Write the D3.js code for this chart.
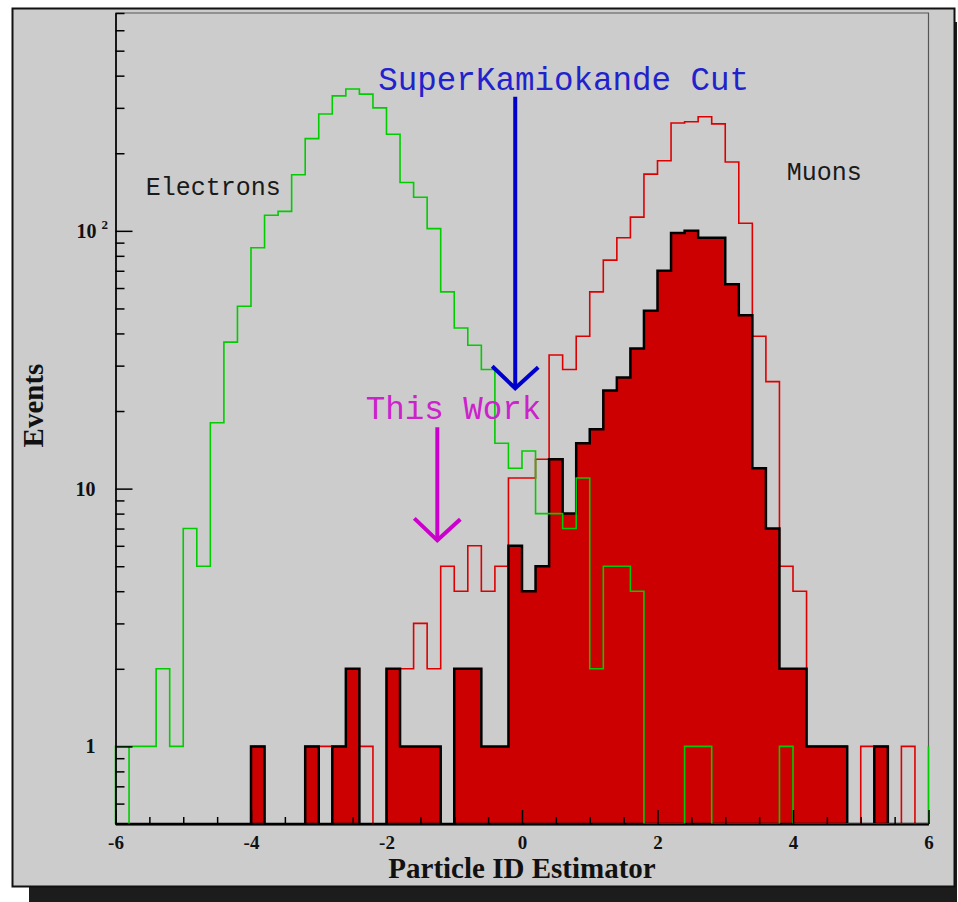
<!DOCTYPE html>
<html>
<head>
<meta charset="utf-8">
<script src="https://cdn.jsdelivr.net/npm/d3@7"></script>
<style>
  html, body { margin: 0; padding: 0; background: #ffffff; }
  svg { display: block; }
</style>
</head>
<body>
<svg id="chart" width="958" height="902"></svg>
<script>
// Histogram binning: 60 bins of width 0.2 from -6 to 6
const binLow = -6;
const binWidth = 0.2;

// Electron sample (green outline)
const electrons = [
  1, 1, 1, 2, 1, 7, 5, 18, 37, 51,
  86, 115, 119, 165, 228, 284, 334, 355, 339, 300,
  237, 154, 135, 102, 58, 42, 36, 29, 15, 12,
  14, 8, 8, 7, 11, 2, 5, 5, 4, 0,
  0, 0, 1, 1, 0, 0, 0, 0, 0, 1,
  0, 0, 0, 0, 0, 0, 0, 0, 0, 0
];
const electronOverflow = 1;

// Muon sample, all events (thin red outline)
const muonsAll = [
  0, 0, 0, 0, 0, 0, 0, 0, 0, 0,
  1, 0, 0, 0, 1, 1, 1, 2, 1, 0,
  2, 2, 3, 2, 5, 4, 6, 4, 5, 11,
  11, 13, 33, 29, 39, 58, 77, 94, 113, 166,
  187, 262, 265, 277, 260, 185, 107, 39, 26, 5,
  4, 1, 1, 1, 0, 1, 1, 0, 1, 0
];

// Muon sample, selected events (filled red, black outline)
const muonsSelected = [
  0, 0, 0, 0, 0, 0, 0, 0, 0, 0,
  1, 0, 0, 0, 1, 0, 1, 2, 0, 0,
  2, 1, 1, 1, 0, 2, 2, 1, 1, 6,
  4, 5, 13, 8, 15, 17, 24, 27, 35, 49,
  70, 98, 100, 94, 94, 62, 47, 12, 7, 2,
  2, 1, 1, 1, 0, 0, 1, 0, 0, 0
];

// Axis ticks
const xTickLabels = [-6, -4, -2, 0, 2, 4, 6];
const xMinorStep = 0.5;
const yTickLabels = [1, 10, 100];

// Cut positions on the estimator and the arrow extents (in events)
const cutNames = ["SuperKamiokande Cut", "This Work"];
const cutValues = [-0.1, -1.25];
const cutArrowTop = [331, 17.3];
const cutArrowTip = [24.5, 6.3];

// Sample names
const sampleNames = ["Electrons", "Muons"];

const svg = d3.select("#chart");

const x = d3.scaleLinear().domain([-6, 6]).range([115.5, 928.5]);
const y = d3.scaleLog().domain([0.5, 700]).range([824, 13]);
const yFloor = y.domain()[0];
const [xLeft, xRight] = x.range();
const [yBottom, yTop] = y.range();

const serif = "'Liberation Serif', 'Times New Roman', Times, serif";
const mono = "'Courier New', 'Liberation Mono', monospace";

// Drop shadow and panel
svg.append("rect")
  .attr("x", 29).attr("y", 22).attr("width", 928).attr("height", 890)
  .attr("fill", "#1c1c1c");
svg.append("rect")
  .attr("x", 12.5).attr("y", 8.5).attr("width", 942).attr("height", 878)
  .attr("fill", "#cccccc").attr("stroke", "#111").attr("stroke-width", 2);

// Upper and right frame of the plot area
svg.append("path")
  .attr("d", `M${xLeft},${yTop}H${xRight}V${yBottom}`)
  .attr("fill", "none").attr("stroke", "#555").attr("stroke-width", 1.2);

// Step outline of a histogram, empty bins sit on the axis floor
function stepPoints(values) {
  const pts = [[x(binLow), y(yFloor)]];
  values.forEach((v, i) => {
    const x0 = x(binLow + i * binWidth);
    const x1 = x(binLow + (i + 1) * binWidth);
    const yy = y(Math.max(v, yFloor));
    pts.push([x0, yy], [x1, yy]);
  });
  pts.push([x(binLow + values.length * binWidth), y(yFloor)]);
  return pts;
}
const line = d3.line();

// All muons
svg.append("path")
  .attr("d", line(stepPoints(muonsAll)))
  .attr("fill", "none").attr("stroke", "#dd0000").attr("stroke-width", 1.6);

// Selected muons
svg.append("path")
  .attr("d", line(stepPoints(muonsSelected)) + "Z")
  .attr("fill", "#cc0000").attr("stroke", "#000").attr("stroke-width", 2.5)
  .attr("stroke-linejoin", "miter");

// Electrons
const green = svg.append("g").attr("stroke", "#00cc00").attr("stroke-width", 1.6).attr("fill", "none");
green.append("path").attr("d", line(stepPoints(electrons)));
// closing strokes at the first bin edge and at the upper limit (overflow)
green.append("line")
  .attr("x1", x(binLow + binWidth)).attr("x2", x(binLow + binWidth))
  .attr("y1", y(yFloor)).attr("y2", y(Math.max(electrons[0], yFloor)));
green.append("line")
  .attr("x1", x.range()[1]).attr("x2", x.range()[1])
  .attr("y1", y(yFloor)).attr("y2", y(electronOverflow));

// X axis
const xMinor = d3.range(-6, 6.0001, xMinorStep).filter(v => !xTickLabels.includes(v));
const xAxisMinor = d3.axisBottom(x).tickValues(xMinor).tickSize(-7).tickSizeOuter(0).tickFormat("");
const xAxisMajor = d3.axisBottom(x).tickValues(xTickLabels).tickSize(-14).tickSizeOuter(0)
  .tickPadding(11.5).tickFormat(d3.format("d"));
svg.append("g").attr("transform", `translate(0,${yBottom})`).call(xAxisMinor);
const gx = svg.append("g").attr("transform", `translate(0,${yBottom})`).call(xAxisMajor);
gx.selectAll("text")
  .attr("font-family", serif).attr("font-weight", "bold").attr("font-size", 19)
  .attr("fill", "#111").text(d => d < 0 ? "-" + Math.abs(d) : String(d));

// Y axis
const yMinor = y.ticks().filter(v => !yTickLabels.includes(v) && v > yFloor);
const yAxisMinor = d3.axisLeft(y).tickValues(yMinor).tickSize(-9).tickSizeOuter(0).tickFormat("");
const yAxisMajor = d3.axisLeft(y).tickValues(yTickLabels).tickSize(-17).tickSizeOuter(0)
  .tickPadding(20).tickFormat(d3.format("d"));
svg.append("g").attr("transform", `translate(${xLeft},0)`).call(yAxisMinor);
const gy = svg.append("g").attr("transform", `translate(${xLeft},0)`).call(yAxisMajor);
gy.selectAll("text")
  .attr("font-family", serif).attr("font-weight", "bold").attr("font-size", 20)
  .attr("fill", "#111");
// powers of ten above 10 as 10 with a raised exponent
gy.selectAll("text").filter(d => d >= 100).each(function (d) {
  const t = d3.select(this).text("").attr("x", -7.5);
  t.append("tspan").text("10");
  t.append("tspan").attr("dx", 5).attr("dy", -9).attr("font-size", 13)
    .text(String(Math.round(Math.log10(d))));
});

svg.selectAll(".domain").attr("stroke", "#000").attr("stroke-width", 1.3);
svg.selectAll(".tick line").attr("stroke", "#000").attr("stroke-width", 1.5);

// Axis titles
svg.append("text")
  .attr("x", (xLeft + xRight) / 2).attr("y", 878)
  .attr("text-anchor", "middle")
  .attr("font-family", serif).attr("font-weight", "bold").attr("font-size", 29)
  .attr("fill", "#111").text("Particle ID Estimator");
svg.append("text")
  .attr("transform", "translate(43,405.5) rotate(-90)")
  .attr("text-anchor", "middle")
  .attr("font-family", serif).attr("font-weight", "bold").attr("font-size", 29)
  .attr("fill", "#111").text("Events");

// Cut arrows
const cutColors = ["#0000cc", "#cc00cc"];
const cutTextColors = ["#2222cc", "#cc22cc"];
cutValues.forEach((c, i) => {
  const cx = x(c), top = y(cutArrowTop[i]), tip = y(cutArrowTip[i]);
  const g = svg.append("g").attr("stroke", cutColors[i]).attr("stroke-width", 4).attr("fill", "none");
  g.append("line").attr("x1", cx).attr("x2", cx).attr("y1", top).attr("y2", tip);
  g.append("path")
    .attr("d", `M${cx - 23},${tip - 22}L${cx},${tip}L${cx + 23},${tip - 21}`)
    .attr("stroke-linejoin", "miter");
});

// Cut labels
svg.append("text")
  .attr("x", x(-2.12)).attr("y", y(352))
  .attr("font-family", mono).attr("font-size", 32.5).attr("fill", cutTextColors[0])
  .text(cutNames[0]);
svg.append("text")
  .attr("x", x(-2.305)).attr("y", y(18.7))
  .attr("font-family", mono).attr("font-size", 32.5).attr("fill", cutTextColors[1])
  .text(cutNames[1]);

// Sample labels
svg.append("text")
  .attr("x", x(-5.555)).attr("y", y(138))
  .attr("font-family", mono).attr("font-size", 25).attr("fill", "#1a1a1a")
  .text(sampleNames[0]);
svg.append("text")
  .attr("x", x(3.907)).attr("y", y(157))
  .attr("font-family", mono).attr("font-size", 25).attr("fill", "#1a1a1a")
  .text(sampleNames[1]);
</script>
</body>
</html>
